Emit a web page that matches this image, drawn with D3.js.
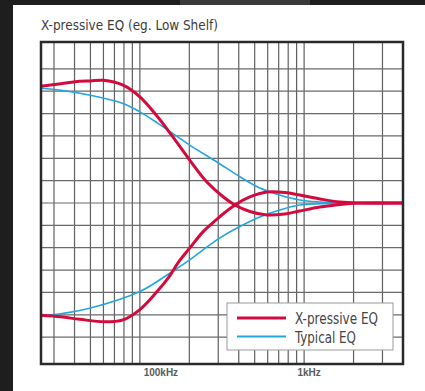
<!DOCTYPE html>
<html lang="en">
<head>
    <meta charset="UTF-8">
    <title>X-pressive EQ</title>
    <script src="https://d3js.org/d3.v7.min.js"></script>
</head>
<body style="margin: 0; padding: 0; overflow: hidden; background-color: #1e1e1e;">
    <svg id="chart" width="425" height="391"></svg>
    <script>
        // curves: [frequency, gain in dB]
        const xpressiveBoost = [[25, 10.45], [33, 10.67], [43, 10.89], [50, 10.92], [60, 10.98], [79, 10.54], [100, 9.5],
            [126, 7.85], [156, 6.07], [201, 3.84], [255, 1.9], [321, 0.56], [379, -0.18], [467, -0.76], [593, -1.07],
            [763, -0.98], [941, -0.71], [1250, -0.36], [1650, -0.13], [2180, 0], [4000, 0]];
        const xpressiveCut = [[25, -10.04], [33, -10.18], [43, -10.4], [61, -10.63], [79, -10.45], [100, -9.53],
            [126, -7.99], [152, -6.52], [171, -5.33], [201, -4.04], [243, -2.56], [307, -1.22], [379, -0.18],
            [467, 0.54], [593, 0.98], [763, 0.94], [941, 0.71], [1250, 0.36], [1650, 0.09], [2180, 0], [4000, 0]];
        const typicalBoost = [[25, 10.27], [33, 10.09], [50, 9.64], [79, 8.9], [100, 8.15], [129, 7.12], [201, 5.18],
            [293, 3.69], [406, 2.35], [537, 1.34], [710, 0.71], [941, 0.27], [1430, 0.04], [2180, 0], [4000, 0]];
        const typicalCut = [[25, -10.09], [33, -9.91], [50, -9.4], [100, -7.92], [152, -6.28], [201, -5.09],
            [294, -3.3], [388, -2.26], [537, -1.25], [710, -0.63], [941, -0.18], [1430, -0.04], [2180, 0], [4000, 0]];

        const freqGrid = [30, 40, 50, 60, 70, 80, 90, 100, 200, 300, 400, 500, 600, 700, 800, 900, 1000, 2000, 3000];
        const dbGrid = [-12, -10, -8, -6, -4, -2, 0, 2, 4, 6, 8, 10, 12];
        const freqTicks = [100, 1000];
        const freqLabels = ["100kHz", "1kHz"];

        const RED = "#d30b3d";
        const BLUE = "#22a6df";
        const FONT = "'DejaVu Sans Condensed', 'Liberation Sans Narrow', sans-serif";

        const svg = d3.select("#chart");

        // white sheet on the dark scan background
        svg.append("rect").attr("x", 0).attr("y", 0).attr("width", 425).attr("height", 391).attr("fill", "#1e1e1e");
        svg.append("rect").attr("x", 180).attr("y", 0).attr("width", 130).attr("height", 5).attr("fill", "#3a3a3a");
        svg.append("rect").attr("x", 13).attr("y", 5).attr("width", 412).attr("height", 386).attr("fill", "#ffffff");

        svg.append("text")
            .attr("x", 41).attr("y", 30)
            .attr("font-family", FONT).attr("font-size", "14.5px")
            .attr("textLength", 177).attr("lengthAdjust", "spacingAndGlyphs")
            .attr("fill", "#3c3c3c")
            .text("X-pressive EQ (eg. Low Shelf)");

        const plotLeft = 41, plotRight = 403, plotTop = 42, plotBottom = 364;

        const x = d3.scaleLog().domain([25, 4000]).range([plotLeft, plotRight]);
        const y = d3.scaleLinear().domain([-14.4, 14.4]).range([plotBottom, plotTop]);

        const g = svg.append("g");

        g.selectAll("line.v")
            .data(freqGrid)
            .enter()
            .append("line")
            .attr("class", "v")
            .attr("x1", d => x(d)).attr("x2", d => x(d))
            .attr("y1", plotTop).attr("y2", plotBottom)
            .attr("stroke", "#606060").attr("stroke-width", 1.2);

        g.selectAll("line.h")
            .data(dbGrid)
            .enter()
            .append("line")
            .attr("class", "h")
            .attr("x1", plotLeft).attr("x2", plotRight)
            .attr("y1", d => y(d)).attr("y2", d => y(d))
            .attr("stroke", "#6a6a6a").attr("stroke-width", 1.2);

        // frequency labels under the frame
        const labelShift = [21, 5];
        g.selectAll("text.tick")
            .data(freqTicks)
            .enter()
            .append("text")
            .attr("class", "tick")
            .attr("x", (d, i) => x(d) + labelShift[i])
            .attr("y", 376)
            .attr("text-anchor", "middle")
            .attr("font-family", "'Liberation Sans', Arial, sans-serif")
            .attr("font-size", "10px").attr("font-weight", "bold")
            .attr("fill", "#5a5a5a")
            .text((d, i) => freqLabels[i]);

        const line = d3.line()
            .x(d => x(d[0]))
            .y(d => y(d[1]))
            .curve(d3.curveCatmullRom.alpha(0.5));

        [typicalBoost, typicalCut].forEach(function(s) {
            g.append("path").attr("d", line(s))
                .attr("fill", "none").attr("stroke", BLUE).attr("stroke-width", 1.6);
        });
        [xpressiveBoost, xpressiveCut].forEach(function(s) {
            g.append("path").attr("d", line(s))
                .attr("fill", "none").attr("stroke", RED).attr("stroke-width", 3);
        });

        g.append("rect")
            .attr("x", plotLeft).attr("y", plotTop)
            .attr("width", plotRight - plotLeft).attr("height", plotBottom - plotTop)
            .attr("fill", "none").attr("stroke", "#2a2a2a").attr("stroke-width", 2.5);

        // legend
        const legend = svg.append("g").attr("transform", "translate(227,303)");
        legend.append("rect")
            .attr("width", 166).attr("height", 47)
            .attr("fill", "#ffffff").attr("stroke", "#9a9a9a").attr("stroke-width", 1);
        const items = [["X-pressive EQ", RED, 3, 83], ["Typical EQ", BLUE, 2, 61]];
        items.forEach(function(it, i) {
            legend.append("line")
                .attr("x1", 10).attr("x2", 59)
                .attr("y1", 15 + i * 18.5).attr("y2", 15 + i * 18.5)
                .attr("stroke", it[1]).attr("stroke-width", it[2]);
            legend.append("text")
                .attr("x", 68).attr("y", 21 + i * 18.5)
                .attr("font-family", FONT).attr("font-size", "15px")
                .attr("textLength", it[3]).attr("lengthAdjust", "spacingAndGlyphs")
                .attr("fill", "#444")
                .text(it[0]);
        });
    </script>
</body>
</html>
